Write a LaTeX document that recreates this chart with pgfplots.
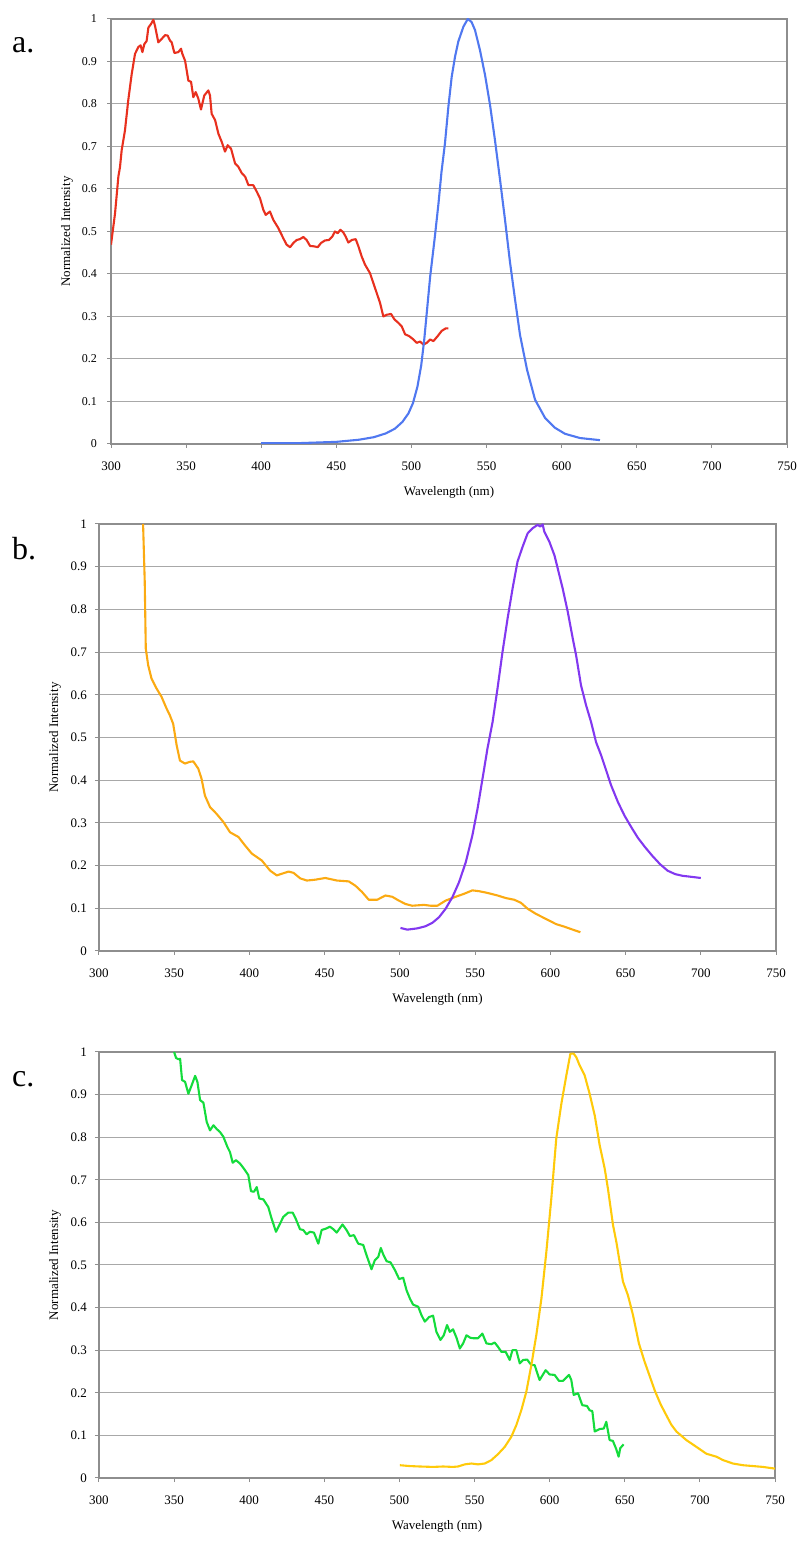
\documentclass[border=0pt]{standalone}
\usepackage{fontspec}
\setmainfont{Liberation Serif}
\usepackage{pgfplots}
\pgfplotsset{compat=1.18}

\definecolor{axgray}{HTML}{8E8E8E}
\definecolor{gridgray}{HTML}{A8A8A8}
\definecolor{absred}{HTML}{E8301E}
\definecolor{emblue}{HTML}{5078F0}
\definecolor{absorange}{HTML}{FBAA12}
\definecolor{empurple}{HTML}{8238F0}
\definecolor{absgreen}{HTML}{14DC3C}
\definecolor{emyellow}{HTML}{FFCA0A}

\pgfplotsset{
  panel/.style={
    scale only axis,
    anchor=south west,
    xmin=300, xmax=750, ymin=0, ymax=1,
    xtick={300,350,400,450,500,550,600,650,700,750},
    ytick={0,0.1,0.2,0.3,0.4,0.5,0.6,0.7,0.8,0.9,1},
    /pgf/number format/.cd, fixed, precision=1, assume math mode=true, /pgfplots/.cd,
    ymajorgrids,
    grid style={draw=gridgray, line width=1pt},
    axis line style={draw=axgray, line width=1.2pt},
    tick style={draw=axgray, line width=1pt},
    major tick length=4pt,
    tick align=outside,
    tick pos=left,
    xticklabel style={font=\fontsize{13}{13}\selectfont, inner sep=0pt, yshift=-13.5pt},
    yticklabel style={font=\fontsize{13}{13}\selectfont, inner sep=0pt},
    xlabel={Wavelength (nm)},
    ylabel={Normalized Intensity},
    xlabel style={font=\fontsize{13}{13}\selectfont, at={(axis description cs:0.5,-0.114)}, anchor=center},
    ylabel style={font=\fontsize{13}{13}\selectfont, at={(axis description cs:-0.065,0.5)}, anchor=center},
    every axis plot/.append style={line width=2.1pt, line join=round, no marks},
  },
}

\begin{document}
\begin{tikzpicture}
\path[use as bounding box] (0,0) rectangle (801pt,1542pt);

% ---- a ----
\begin{axis}[panel, at={(111pt,1098pt)}, width=676pt, height=425pt,
  yticklabel style={font=\fontsize{12}{12}\selectfont, xshift=-10pt}]
\addplot[absred] coordinates {
(300,0.469)(302.7,0.543)(304.9,0.629)(306,0.652)(307.1,0.691)(309.3,0.738)
(311.5,0.809)(313.8,0.871)(316,0.918)(318.2,0.934)(319.7,0.938)(320.9,0.922)
(322.2,0.941)(323.7,0.948)(324.9,0.980)(326.6,0.988)(328.2,0.998)(329.3,0.984)
(331.5,0.945)(333.7,0.953)(336,0.962)(337.7,0.961)(339.3,0.949)(340.4,0.945)
(342.2,0.920)(344.8,0.922)(346.6,0.930)(347.5,0.918)(349.3,0.902)(351.5,0.855)
(353.3,0.852)(354.8,0.816)(356.4,0.828)(358.1,0.813)(359.9,0.787)(362.1,0.820)
(364.8,0.832)(365.9,0.820)(367,0.777)(369.3,0.762)(371.5,0.730)(373.7,0.711)
(375.9,0.688)(377.7,0.703)(379.9,0.695)(382.6,0.660)(384.8,0.652)(387.1,0.637)
(389.3,0.629)(391.5,0.609)(394.7,0.609)(397,0.594)(399.2,0.578)(401.4,0.551)
(403,0.539)(405.8,0.547)(408.1,0.527)(411.4,0.508)(414.7,0.484)(416.9,0.469)
(419.2,0.463)(421.4,0.473)(423.6,0.480)(425.8,0.482)(428,0.487)(430.2,0.480)
(432.5,0.466)(435.3,0.465)(437.6,0.463)(439.8,0.473)(442.5,0.479)(445.1,0.480)
(447.3,0.488)(449.1,0.500)(450.9,0.496)(452.7,0.504)(454.6,0.498)(456.2,0.488)
(458,0.474)(460.3,0.480)(462.9,0.482)(464.7,0.465)(466.9,0.441)(469.1,0.422)
(472.4,0.402)(474.6,0.379)(476.9,0.355)(479.1,0.332)(481.3,0.300)(483.5,0.304)
(486.4,0.306)(488.7,0.293)(491.3,0.285)(493.5,0.277)(495.8,0.258)(498.4,0.254)
(501.3,0.246)(503.5,0.238)(505.7,0.241)(508,0.234)(510.2,0.238)(512.4,0.246)
(514.6,0.242)(517.5,0.254)(520.1,0.266)(522.8,0.272)(524.6,0.272)
};
\addplot[emblue] coordinates {
(400,0.002)(425,0.002)(450,0.005)(465,0.010)(475,0.016)(483,0.025)(489,0.036)
(494,0.052)(498,0.072)(501,0.096)(504,0.135)(506.5,0.185)(508.5,0.245)
(510.5,0.320)(512.5,0.395)(515.5,0.485)(518,0.566)(520,0.640)(522.3,0.707)
(524.6,0.794)(526.8,0.864)(529,0.911)(531.2,0.947)(534.6,0.982)(537.5,1.000)
(540,0.993)(542.3,0.974)(545.6,0.927)(549,0.868)(552.3,0.798)(555.6,0.715)
(559,0.621)(562.3,0.527)(565.6,0.428)(569,0.339)(572.3,0.256)(577,0.174)
(582.3,0.104)(589,0.061)(595.6,0.038)(602.2,0.024)(612.2,0.014)(625.5,0.009)
};
\end{axis}

% ---- b ----
\begin{axis}[panel, at={(99pt,591pt)}, width=677pt, height=427pt,
  yticklabel style={xshift=-8pt}]
\addplot[absorange] coordinates {
(329.3,1.0)(330.4,0.865)(331.1,0.708)(332.7,0.669)(334.9,0.638)(338.2,0.615)
(341.6,0.595)(344.9,0.568)(347.1,0.552)(349.3,0.532)(351.6,0.482)(353.8,0.446)
(357.1,0.439)(360.4,0.443)(362.7,0.444)(366,0.427)(368.2,0.403)(370.4,0.364)
(373.8,0.337)(378.2,0.321)(382.7,0.302)(387.1,0.278)(392.7,0.267)(397.1,0.247)
(401.6,0.228)(408.2,0.212)(413.8,0.188)(418.2,0.177)(421.6,0.181)(426,0.186)
(429.3,0.183)(433.8,0.170)(438.2,0.165)(443.8,0.167)(450.4,0.171)(458.2,0.165)
(466,0.163)(470.4,0.153)(474.9,0.138)(479.3,0.120)(484.9,0.120)(490.4,0.130)
(494.9,0.127)(499.3,0.118)(503.8,0.110)(508.2,0.106)(516,0.108)(520.4,0.106)
(524.9,0.106)(530.4,0.118)(537.1,0.127)(542.7,0.134)(548.2,0.142)(552.7,0.140)
(558.2,0.136)(564.9,0.130)(570.4,0.124)(576,0.120)(580.4,0.113)(584.9,0.099)
(590.4,0.087)(597.1,0.075)(603.8,0.063)(609.3,0.057)(614.9,0.050)(620,0.044)
};
\addplot[empurple] coordinates {
(500.4,0.054)(504.9,0.050)(511.6,0.053)(517.1,0.058)(521.6,0.066)(526,0.079)
(530.4,0.099)(534.9,0.126)(539.3,0.161)(543.8,0.208)(548.2,0.271)(551.6,0.333)
(554.9,0.403)(558.2,0.474)(561.6,0.536)(564.9,0.615)(568.2,0.700)(571.6,0.779)
(574.9,0.849)(578.2,0.912)(581.6,0.947)(584.9,0.978)(588.2,0.990)(591.6,0.998)
(593.3,0.994)(594.9,0.999)(596,0.982)(599.3,0.959)(602.7,0.927)(604.9,0.896)
(608.2,0.849)(611.6,0.794)(614.9,0.732)(617.1,0.693)(620.4,0.622)(623.8,0.575)
(627.1,0.536)(630.4,0.489)(633.8,0.458)(637.1,0.423)(640.4,0.388)(644.9,0.349)
(649.3,0.317)(653.8,0.290)(658.2,0.265)(663,0.243)(668,0.222)(673,0.203)
(678,0.188)(683,0.180)(688,0.176)(693,0.174)(700,0.171)
};
\end{axis}

% ---- c ----
\begin{axis}[panel, at={(99pt,64pt)}, width=676pt, height=426pt,
  yticklabel style={xshift=-8pt}]
\addplot[absgreen] coordinates {
(350,1.0)(351.3,0.986)(352.9,0.983)(354,0.984)(355.3,0.934)(357.3,0.930)
(359.5,0.902)(361.7,0.922)(364,0.944)(365.5,0.930)(367.3,0.887)(369.5,0.881)
(371.7,0.836)(373.9,0.816)(376.2,0.828)(378.4,0.819)(380.6,0.812)(382.8,0.801)
(385.5,0.777)(387.2,0.765)(389,0.740)(391.2,0.746)(393.9,0.738)(396.5,0.726)
(399.4,0.711)(401.2,0.673)(403.2,0.672)(405,0.683)(406.7,0.656)(409.4,0.654)
(412.7,0.636)(414.9,0.609)(417.8,0.578)(420.5,0.597)(422.7,0.613)(426,0.623)
(428.9,0.623)(430.9,0.609)(433.8,0.584)(436,0.582)(438.2,0.572)(440.4,0.578)
(443.1,0.576)(446,0.550)(448.2,0.582)(451.5,0.586)(453.7,0.590)(456,0.584)
(458.2,0.576)(462.1,0.595)(464.8,0.582)(467,0.568)(469.7,0.570)(472.6,0.550)
(475.9,0.547)(478.1,0.523)(481.4,0.490)(483.6,0.511)(485.9,0.519)(487.6,0.540)
(489.2,0.525)(491.4,0.509)(494.1,0.506)(497,0.488)(499.8,0.467)(502.5,0.470)
(504.7,0.441)(507,0.421)(509.1,0.407)(512.5,0.402)(514.7,0.382)(516.9,0.367)
(519.8,0.378)(522.4,0.381)(524.6,0.343)(527.3,0.324)(529.5,0.335)(531.7,0.359)
(533.5,0.343)(535.7,0.349)(538,0.329)(540.2,0.304)(542.4,0.316)(544.6,0.335)
(547.3,0.329)(549.5,0.328)(552.3,0.328)(555.2,0.339)(557.9,0.316)(561.2,0.314)
(563.4,0.318)(565.6,0.308)(567.9,0.296)(570.7,0.296)(573.4,0.277)(575.2,0.300)
(577.8,0.300)(580.1,0.269)(582.3,0.277)(585,0.278)(587.8,0.265)(590,0.265)
(593.3,0.230)(597.3,0.253)(600,0.243)(603.3,0.242)(606.2,0.228)(608.9,0.228)
(612.9,0.242)(614.4,0.230)(616,0.195)(618.9,0.199)(621.7,0.171)(624.9,0.169)
(626.6,0.159)(628.4,0.157)(630,0.109)(633.3,0.115)(636,0.116)(637.7,0.132)
(639.9,0.089)(642.1,0.087)(644.3,0.068)(645.9,0.050)(647,0.070)(649.2,0.079)
};
\addplot[emyellow] coordinates {
(500.3,0.030)(506.9,0.028)(513.6,0.027)(522.4,0.026)(529.1,0.027)(535.7,0.026)
(539,0.027)(543.5,0.032)(547.9,0.034)(552.3,0.032)(556.8,0.034)(561.2,0.042)
(565.6,0.056)(570.1,0.073)(574.5,0.097)(577.8,0.124)(581.2,0.160)(584.5,0.203)
(587.8,0.265)(591.1,0.335)(594.5,0.421)(597.8,0.531)(601.1,0.656)(604.4,0.797)
(607.8,0.879)(611.1,0.945)(613.8,0.996)(616,0.996)(617.7,0.988)(619.9,0.969)
(623.3,0.945)(626.6,0.902)(630,0.851)(633.3,0.781)(636.6,0.727)(638.8,0.679)
(642.2,0.593)(644.4,0.554)(646.6,0.507)(648.8,0.461)(652.1,0.429)(655.5,0.382)
(659.4,0.316)(663,0.275)(666.5,0.240)(670,0.205)(674,0.172)(678,0.145)
(681,0.125)(684.4,0.109)(691,0.089)(697.7,0.073)(704.3,0.057)(711,0.050)
(715.4,0.042)(722,0.034)(728.7,0.030)(735.4,0.028)(742,0.026)(750,0.022)
};
\end{axis}

\node[anchor=base west, inner sep=0pt, font=\fontsize{32}{32}\selectfont] at (12pt,1489pt) {a.};
\node[anchor=base west, inner sep=0pt, font=\fontsize{32}{32}\selectfont] at (12pt,982pt) {b.};
\node[anchor=base west, inner sep=0pt, font=\fontsize{32}{32}\selectfont] at (12pt,455pt) {c.};
\end{tikzpicture}
\end{document}
